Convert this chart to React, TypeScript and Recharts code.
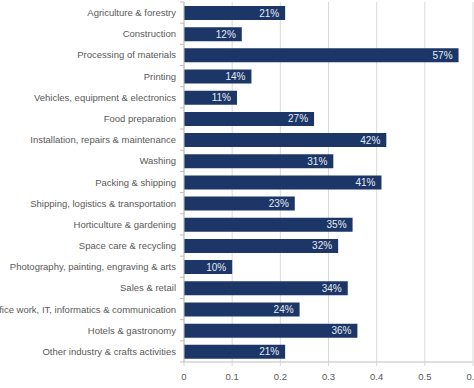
import React from "react";
import { BarChart, Bar, XAxis, YAxis, CartesianGrid, LabelList } from "recharts";

const categories = [
  "Agriculture & forestry",
  "Construction",
  "Processing of materials",
  "Printing",
  "Vehicles, equipment & electronics",
  "Food preparation",
  "Installation, repairs & maintenance",
  "Washing",
  "Packing & shipping",
  "Shipping, logistics & transportation",
  "Horticulture & gardening",
  "Space care & recycling",
  "Photography, painting, engraving & arts",
  "Sales & retail",
  "Office work, IT, informatics & communication",
  "Hotels & gastronomy",
  "Other industry & crafts activities",
];

const shares = [0.21, 0.12, 0.57, 0.14, 0.11, 0.27, 0.42, 0.31, 0.41, 0.23, 0.35, 0.32, 0.1, 0.34, 0.24, 0.36, 0.21];

const xTicks = [0, 0.1, 0.2, 0.3, 0.4, 0.5, 0.6];

const data = categories.map((name, i) => ({ name, value: shares[i] }));

const WIDTH = 474;
const HEIGHT = 388;
const TOP = 2;
const AXIS_W = 184;
const XAXIS_H = 26;
const PLOT_H = HEIGHT - TOP - XAXIS_H;
const BAND = PLOT_H / categories.length;

const font = "Liberation Sans, Arial, sans-serif";
const textColor = "#595959";

// category label plus a small tick mark on each boundary between bars
const CategoryTick = (props: any) => {
  const { x, y, payload, index } = props;
  const last = index === categories.length - 1;
  return (
    <g>
      <text x={x} y={y} dy={3.5} textAnchor="end" fontSize={9.5} fill={textColor} fontFamily={font}>
        {payload.value}
      </text>
      <line x1={AXIS_W - 4} x2={AXIS_W} y1={y - BAND / 2} y2={y - BAND / 2} stroke="#bfbfbf" />
      {last && <line x1={AXIS_W - 4} x2={AXIS_W} y1={y + BAND / 2} y2={y + BAND / 2} stroke="#bfbfbf" />}
    </g>
  );
};

export default function App() {
  return (
    <div style={{ position: "absolute", left: 0, top: 0, width: WIDTH, height: HEIGHT, background: "#fff" }}>
      <BarChart
        width={WIDTH}
        height={HEIGHT}
        data={data}
        layout="vertical"
        margin={{ top: TOP, right: 1, left: 0, bottom: 0 }}
      >
        <CartesianGrid horizontal={false} stroke="#d9d9d9" />
        <XAxis
          type="number"
          domain={[0, 0.6]}
          ticks={xTicks}
          interval={0}
          height={XAXIS_H}
          axisLine={{ stroke: "#bfbfbf" }}
          tickLine={{ stroke: "#d9d9d9" }}
          tickSize={4}
          tickMargin={7}
          tick={{ fontSize: 9.5, fill: textColor, fontFamily: font }}
        />
        <YAxis
          type="category"
          dataKey="name"
          width={AXIS_W}
          interval={0}
          axisLine={{ stroke: "#bfbfbf" }}
          tickLine={false}
          tickSize={4}
          tickMargin={4}
          tick={<CategoryTick />}
        />
        <Bar dataKey="value" fill="#1c3767" barSize={14} isAnimationActive={false}>
          <LabelList
            dataKey="value"
            position="insideRight"
            offset={6}
            fill="#e6eaf3"
            fontSize={10}
            fontWeight="normal"
            fontFamily={font}
            formatter={(v: any) => `${Math.round(v * 100)}%`}
          />
        </Bar>
      </BarChart>
    </div>
  );
}
